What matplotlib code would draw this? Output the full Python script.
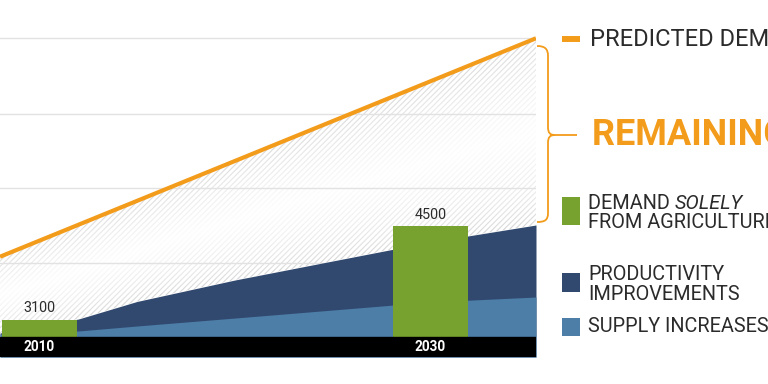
import numpy as np
import matplotlib
matplotlib.use("Agg")
import matplotlib.pyplot as plt
from matplotlib.path import Path
from matplotlib.patches import PathPatch, Rectangle
import matplotlib.lines as mlines

plt.rcParams['font.family'] = ['Roboto', 'DejaVu Sans']
plt.rcParams['hatch.linewidth'] = 0.8

# ---------------- data ----------------
bar_years = [2010, 2030]
bar_values = [3100, 4500]
bar_labels = ["3100", "4500"]

stack_years = [2008, 2010, 2012, 2015, 2020, 2025, 2030, 2035.4]
supply_top = [2883, 2913, 2928, 3003, 3122, 3242, 3362, 3437]        # supply increases (top of light layer)
productivity_top = [2898, 3003, 3107, 3370, 3691, 3976, 4260, 4515]  # productivity improvements (top of dark layer)

demand_years = [2008, 2035.4]
demand_values = [4040, 7310]

grid_values = [3950, 5070, 6180, 7310]
base_value = 2838
y_min, y_max = 2539, 7883
x_min, x_max = 2008, 2035.4

ORANGE = '#f39c1b'
GREEN = '#78a22f'
NAVY = '#31496f'
LBLUE = '#4c7ea8'
TXT = '#2b2b2b'

W, H = 768, 384
fig = plt.figure(figsize=(W / 100, H / 100), dpi=100)
fig.patch.set_facecolor('white')
ax = fig.add_axes([0, 27 / H, 536 / W, 357 / H])
ax.set_xlim(x_min, x_max)
ax.set_ylim(y_min, y_max)
ax.set_axis_off()

sy = np.array(stack_years, dtype=float)
sup = np.array(supply_top, dtype=float)
prod = np.array(productivity_top, dtype=float)
dem = np.interp(sy, demand_years, demand_values)

# hatched remaining gap
ax.fill_between(sy, prod, dem, facecolor='white', edgecolor='#d4d4d4',
                hatch='//////', linewidth=0, zorder=1)

# fade overlay (white gradient in the middle of the gap)
nx, ny = 600, 400
xs = np.linspace(x_min, x_max, nx)
ys = np.linspace(y_min, y_max, ny)
X, Y = np.meshgrid(xs, ys)
lo = np.interp(X, sy, prod)
hi = np.interp(X, demand_years, demand_values)
t = (Y - lo) / (hi - lo)
alpha = np.clip(1.0 - np.abs(2 * t - 1), 0, 1) ** 0.6 * 0.95
alpha[(t < 0) | (t > 1)] = 0
img = np.zeros((ny, nx, 4))
img[..., :3] = 1.0
img[..., 3] = alpha
ax.imshow(img, extent=(x_min, x_max, y_min, y_max), origin='lower',
          aspect='auto', zorder=1.5, interpolation='bilinear')

# gridlines
for g in grid_values:
    ax.axhline(g, color='#e2e2e2', lw=1.0, zorder=2)

# stacked supply areas
ax.fill_between(sy, y_min, prod, color=NAVY, lw=0, zorder=3)
ax.fill_between(sy, y_min, sup, color=LBLUE, lw=0, zorder=4)

# predicted demand line
ax.plot(demand_years, demand_values, color=ORANGE, lw=3.0, zorder=6,
        solid_capstyle='butt')

# bars
bar_w = 3.84
ax.bar(bar_years, [v - base_value for v in bar_values], bottom=base_value,
       width=bar_w, color=GREEN, zorder=5)
for yr, v, lab in zip(bar_years, bar_values, bar_labels):
    ax.annotate(lab, (yr, v), xytext=(0, 3), textcoords='offset points',
                ha='center', va='bottom', fontsize=10.4, color=TXT, zorder=7)

# black year band
ax.axhspan(y_min, base_value, color='black', zorder=8)
for yr in bar_years:
    ax.text(yr, (y_min + base_value) / 2, str(yr), ha='center', va='center',
            color='white', fontsize=9.8, fontweight='bold', zorder=9)


# ---------------- right-hand annotation ----------------
def fx(px):
    return px / W


def fy(py):
    return 1 - py / H


# brace
verts = [
    (537, 46), (545, 46), (548, 49), (548, 56),
    (548, 127),
    (548, 133), (550, 135), (555, 135),
    (577, 135),
    (555, 135),
    (550, 135), (548, 137), (548, 143),
    (548, 213),
    (548, 220), (545, 222), (537, 222),
]
codes = [Path.MOVETO, Path.CURVE4, Path.CURVE4, Path.CURVE4,
         Path.LINETO,
         Path.CURVE4, Path.CURVE4, Path.CURVE4,
         Path.LINETO,
         Path.MOVETO,
         Path.CURVE4, Path.CURVE4, Path.CURVE4,
         Path.LINETO,
         Path.CURVE4, Path.CURVE4, Path.CURVE4]
path = Path([(fx(a), fy(b)) for a, b in verts], codes)
fig.add_artist(PathPatch(path, transform=fig.transFigure, fill=False,
                         edgecolor=ORANGE, lw=1.3))

# legend: predicted demand
fig.add_artist(mlines.Line2D([fx(562), fx(580)], [fy(39), fy(39)],
                             transform=fig.transFigure, color=ORANGE, lw=4.3,
                             solid_capstyle='butt'))
fig.text(fx(590), fy(40), "PREDICTED DEMAND", fontsize=17, color=TXT,
         va='center', ha='left')

fig.text(fx(592), fy(135), "REMAINING GAP", fontsize=26, color=ORANGE,
         fontweight='bold', va='center', ha='left')


def square(y0, y1, color):
    fig.add_artist(Rectangle((fx(562), fy(y1)), fx(580) - fx(562), fy(y0) - fy(y1),
                             transform=fig.transFigure, color=color, lw=0))


LEG_FS = 14.3
square(197, 225, GREEN)
t1 = fig.text(fx(588), fy(203.5), "DEMAND ", fontsize=LEG_FS, color=TXT,
              va='center', ha='left')
ax.annotate("SOLELY", xy=(1, 0.5), xycoords=t1, va='center', ha='left',
            fontsize=LEG_FS, color=TXT, style='italic', annotation_clip=False)
fig.text(fx(588), fy(222.5), "FROM AGRICULTURE", fontsize=LEG_FS, color=TXT,
         va='center', ha='left')

square(273, 292, NAVY)
fig.text(fx(588), fy(275), "PRODUCTIVITY", fontsize=LEG_FS, color=TXT,
         va='center', ha='left')
fig.text(fx(588), fy(294.5), "IMPROVEMENTS", fontsize=LEG_FS, color=TXT,
         va='center', ha='left')

square(318, 336, LBLUE)
fig.text(fx(588), fy(326), "SUPPLY INCREASES", fontsize=LEG_FS, color=TXT,
         va='center', ha='left')

fig.savefig('out.png', dpi=100, facecolor='white')
